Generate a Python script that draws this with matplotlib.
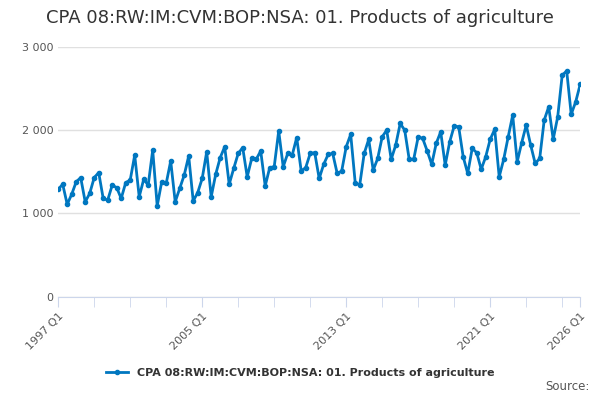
import matplotlib
matplotlib.use('Agg')
import matplotlib.pyplot as plt
from matplotlib.ticker import FuncFormatter

series_name = "CPA 08:RW:IM:CVM:BOP:NSA: 01. Products of agriculture"
years = list(range(1997, 2027))
values = [
    1290, 1350, 1110, 1230,
    1380, 1430, 1140, 1240,
    1430, 1490, 1180, 1160,
    1340, 1310, 1180, 1370,
    1400, 1700, 1200, 1410,
    1340, 1760, 1090, 1380,
    1360, 1630, 1140, 1300,
    1460, 1690, 1150, 1250,
    1420, 1740, 1200, 1470,
    1670, 1800, 1350, 1540,
    1720, 1790, 1440, 1660,
    1650, 1750, 1330, 1550,
    1560, 1990, 1560, 1720,
    1700, 1910, 1510, 1550,
    1720, 1730, 1420, 1590,
    1710, 1720, 1480, 1510,
    1800, 1950, 1370, 1340,
    1720, 1890, 1520, 1660,
    1920, 2000, 1650, 1820,
    2080, 2000, 1650, 1650,
    1920, 1900, 1750, 1590,
    1840, 1980, 1580, 1860,
    2050, 2040, 1680, 1480,
    1780, 1730, 1530, 1680,
    1890, 2010, 1440, 1650,
    1920, 2180, 1620, 1850,
    2060, 1820, 1600, 1660,
    2120, 2280, 1890, 2160,
    2660, 2710, 2190, 2340,
    2550,
]
label_years = [1997, 2005, 2013, 2021, 2026]

x = list(range(len(values)))
blue = '#0077c0'

fig = plt.figure(figsize=(6, 4), dpi=100)
ax = fig.add_axes([0.097, 0.258, 0.87, 0.625])
ax.plot(x, values, color=blue, lw=2, marker='o', ms=3, label=series_name)
ax.set_xlim(0, len(values) - 1)
ax.set_ylim(0, 3000)
ax.set_yticks([0, 1000, 2000, 3000])
ax.yaxis.set_major_formatter(FuncFormatter(lambda v, p: f"{int(v):,}".replace(',', ' ')))
ax.grid(axis='y', color='#e0e0e0', lw=1)
ax.set_axisbelow(True)
for s in ['top', 'right', 'left']:
    ax.spines[s].set_visible(False)
ax.spines['bottom'].set_color('#ccd6eb')
ax.tick_params(axis='y', length=0, labelsize=8, colors='#555555')
ax.set_xticks([(y - 1997) * 4 for y in years if (y - 1997) % 2 == 0] + [116])
ax.set_xticklabels([])
ax.set_xticks([(y - 1997) * 4 for y in label_years])
ax.set_xticklabels([f"{y} Q1" for y in label_years], rotation=45, ha='right',
                   rotation_mode='anchor', fontsize=8, color='#555555')
ax.set_xticks([(y - 1997) * 4 for y in range(1997, 2027, 2)], minor=True)
ax.tick_params(axis='x', which='both', length=7, color='#ccd6eb')

fig.text(0.5, 0.955, "CPA 08:RW:IM:CVM:BOP:NSA: 01. Products of agriculture",
         ha='center', va='center', fontsize=13, color='#333333')
fig.legend(loc='center', bbox_to_anchor=(0.5, 0.067), frameon=False,
           prop={'size': 8, 'weight': 'bold'}, labelcolor='#333333', handlelength=2)
fig.text(0.982, 0.025, "Source:", ha='right', fontsize=8.5, color='#555555')

fig.savefig('out.png')
